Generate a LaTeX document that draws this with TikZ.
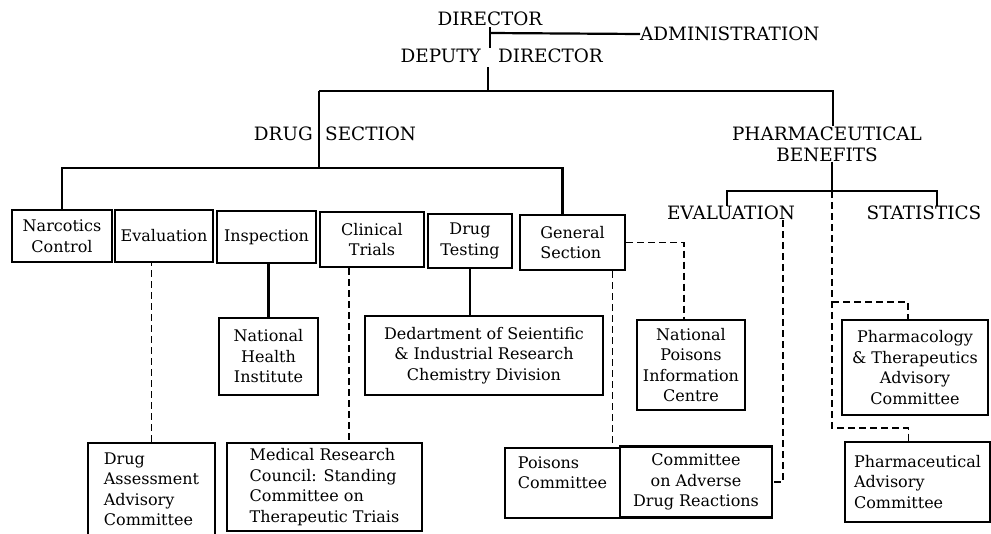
\documentclass[tikz,border=0pt]{standalone}
\usepackage{fontspec}
\setmainfont{DejaVu Serif}
\newcommand\headfont{\fontsize{18.4}{21}\selectfont}
\newcommand\boxfont{\fontsize{16}{20.5}\selectfont}
\begin{document}
\begin{tikzpicture}[x=1pt,y=-1pt,
    link/.style={line width=2.2pt},
    dashlink/.style={line width=1.9pt, dash pattern=on 7pt off 4pt},
    head/.style={inner sep=0pt, font=\headfont},
    box/.style={draw, line width=2.2pt, inner sep=0pt, align=center, font=\boxfont},
    lbox/.style={box, align=left}]
  \useasboundingbox (0,0) rectangle (991,533);
  \clip (0,0) rectangle (991,533);

  % top of the chart
  \node [head] (dir) at (490,18.5) {DIRECTOR};
  \node [head, anchor=west] (adm) at (640,34) {ADMINISTRATION};
  \node [head, anchor=east] (depa) at (481,56) {DEPUTY};
  \node [head, anchor=west] (depb) at (498,56) {DIRECTOR};
  \node [head, anchor=east] (druga) at (313,134) {DRUG};
  \node [head, anchor=west] (drugb) at (325,134) {SECTION};
  \node [head, align=center] (pharm) at (827,144) {PHARMACEUTICAL\\BENEFITS};
  \node [head] (pev) at (731,213) {EVALUATION};
  \node [head] (stat) at (924,213) {STATISTICS};

  \coordinate (dtop) at (490,27);
  \coordinate (admj) at (490,33);
  \coordinate (dbot) at (490,48);
  \coordinate (depj) at (488,67);
  \coordinate (lvl1) at (488,91);
  \coordinate (drug1) at (319,91);
  \coordinate (dj) at (319,168);
  \coordinate (ph1) at (833,91);
  \coordinate (pj) at (832,191);

  % drug section boxes
  \node [box, minimum width=100, minimum height=52] (narc) at (62,236) {Narcotics\\Control};
  \node [box, minimum width=98, minimum height=52] (evl) at (164,236) {Evaluation};
  \node [box, minimum width=99, minimum height=52] (insp) at (266.5,237) {Inspection};
  \node [box, minimum width=104, minimum height=55] (clin) at (372,239.5) {Clinical\\Trials};
  \node [box, minimum width=84, minimum height=54] (dt) at (470,241) {Drug\\Testing};
  \node [lbox, minimum width=105, minimum height=55] (gen) at (572.5,242.5) {General\\Section};

  \node [box, minimum width=99, minimum height=77] (nhi) at (268.5,356.5) {National\\Health\\Institute};
  \node [box, minimum width=238, minimum height=79] (dsir) at (484,355.5) {Dedartment of Seientific\\\& Industrial Research\\Chemistry Division};
  \node [box, minimum width=108, minimum height=90] (npic) at (691,365) {National\\Poisons\\Information\\Centre};
  \node [box, minimum width=146, minimum height=95] (pcol) at (915,367.5) {Pharmacology\\\& Therapeutics\\Advisory\\Committee};

  \node [lbox, minimum width=127, minimum height=93] (da) at (151.5,489.5) {Drug\\Assessment\\Advisory\\Committee};
  \node [lbox, minimum width=195, minimum height=88] (mrc) at (324.5,487) {Medical Research\\Council: Standing\\Committee on\\Therapeutic Triais};
  \node [lbox, minimum width=115, minimum height=70] (poi) at (562.5,483) {Poisons\\Committee\\\mbox{}};
  \node [box, minimum width=152, minimum height=71] (adr) at (696,482) {Committee\\on Adverse\\Drug Reactions};
  \node [lbox, minimum width=145, minimum height=80] (pha) at (917.5,482) {Pharmaceutical\\Advisory\\Committee};

  % solid lines
  \draw[link] (dtop) -- (dbot);
  \draw[link] (admj) -- (adm.west);
  \draw[link] (depj) -- (lvl1);
  \draw[link] (drug1) -- (ph1) -- (ph1 |- pharm.north);
  \draw[link] (drug1) -- (dj);
  \draw[link] (narc.north) |- (dj) -| ([xshift=-10pt]gen.north);
  \draw[link] (pj |- pharm.south) -- (pj);
  \draw[link] ([xshift=-4pt]pev.north) |- (pj) -| ([xshift=13pt]stat.north);
  \draw[link] (nhi.north) -- (nhi.north |- insp.south);
  \draw[link] (dt.south) -- (dt.south |- dsir.north);

  % dashed lines
  \draw[dashlink] (da.north) -- (da.north |- evl.south);
  \draw[dashlink] ([xshift=-23pt]clin.south) -- ([xshift=-23pt]clin.south |- mrc.north);
  \draw[dashlink] (gen.east) -| ([xshift=-7pt]npic.north);
  \draw[dashlink] ([xshift=40pt]gen.south) -- ([xshift=40pt]gen.south |- poi.north);
  \draw[dashlink] ([xshift=52pt]pev.south) |- (adr.east);
  \draw[dashlink] (pj) -- (pj |- 0,428) -| ([xshift=-9pt]pha.north);
  \draw[dashlink] (pj |- 0,302) -| ([xshift=-7pt]pcol.north);
\end{tikzpicture}
\end{document}
